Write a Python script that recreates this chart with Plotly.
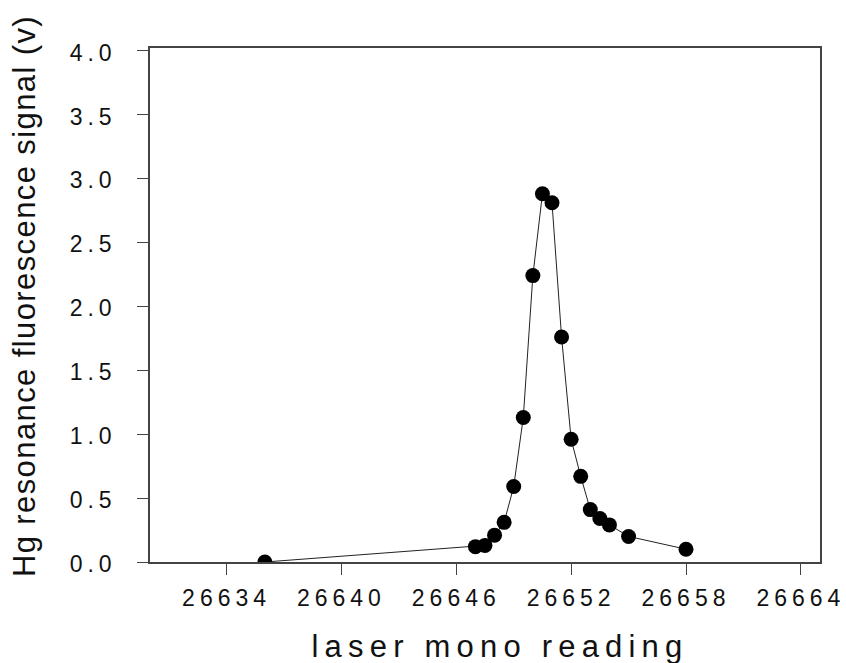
import plotly.graph_objects as go

# Data
mono_reading = [26636, 26647, 26647.5, 26648, 26648.5, 26649, 26649.5, 26650,
                26650.5, 26651, 26651.5, 26652, 26652.5, 26653, 26653.5, 26654,
                26655, 26658]
signal_v = [0.00, 0.12, 0.13, 0.21, 0.31, 0.59, 1.13, 2.24,
            2.88, 2.81, 1.76, 0.96, 0.67, 0.41, 0.34, 0.29,
            0.20, 0.10]

x_tick_vals = [26634, 26640, 26646, 26652, 26658, 26664]
x_tick_text = ["26634", "26640", "26646", "26652", "26658", "26664"]
y_tick_vals = [0.0, 0.5, 1.0, 1.5, 2.0, 2.5, 3.0, 3.5, 4.0]
y_tick_text = ["0.0", "0.5", "1.0", "1.5", "2.0", "2.5", "3.0", "3.5", "4.0"]

x_title = "laser mono reading"
y_title = "Hg resonance fluorescence signal (v)"

FONT = "Liberation Sans, Arial, Helvetica, sans-serif"

fig = go.Figure()
fig.add_trace(go.Scatter(
    x=mono_reading, y=signal_v, mode="lines+markers",
    line=dict(color="#222222", width=1),
    marker=dict(color="black", size=15, symbol="circle"),
    showlegend=False,
))

axis_common = dict(
    showline=True, linecolor="#444444", linewidth=1.5, mirror=True,
    showgrid=False, zeroline=False,
    ticks="outside", ticklen=11, tickwidth=1, tickcolor="#444444",
    tickfont=dict(family=FONT, size=23, color="#111111"),
)

fig.update_layout(
    width=846, height=663,
    margin=dict(l=150, r=26, t=48, b=101),
    paper_bgcolor="white", plot_bgcolor="white",
    font=dict(family=FONT, color="#111111"),
    xaxis=dict(
        range=[26630, 26665],
        tickmode="array", tickvals=x_tick_vals, ticktext=x_tick_text,
        title=dict(text=x_title, font=dict(family=FONT, size=31, color="#111111"), standoff=22),
        **axis_common,
    ),
    yaxis=dict(
        range=[0, 4.02],
        tickmode="array", tickvals=y_tick_vals, ticktext=y_tick_text,
        title=dict(text=y_title, font=dict(family=FONT, size=31, color="#111111"), standoff=10),
        ticklabelstandoff=46,
        **axis_common,
    ),
)

post = """
var s=document.createElement('style');
s.textContent='html,body{margin:0;padding:0}.xtick text,.ytick text{letter-spacing:5px}.xtitle{letter-spacing:6.2px}.ytitle{letter-spacing:1.4px}';
document.head.appendChild(s);
function shift(sel, dx, dy){
  document.querySelectorAll(sel).forEach(function(t){
    t.setAttribute('transform', 'translate('+dx+','+dy+') ' + (t.getAttribute('transform')||''));
  });
}
shift('.ytick text', 30, 2);
shift('.xtick text', 0, 4);
shift('text.xtitle', 15, 7);
shift('text.ytitle', 0, -9);
"""

fig.write_html("out.html", post_script=post, config={"displayModeBar": False})
